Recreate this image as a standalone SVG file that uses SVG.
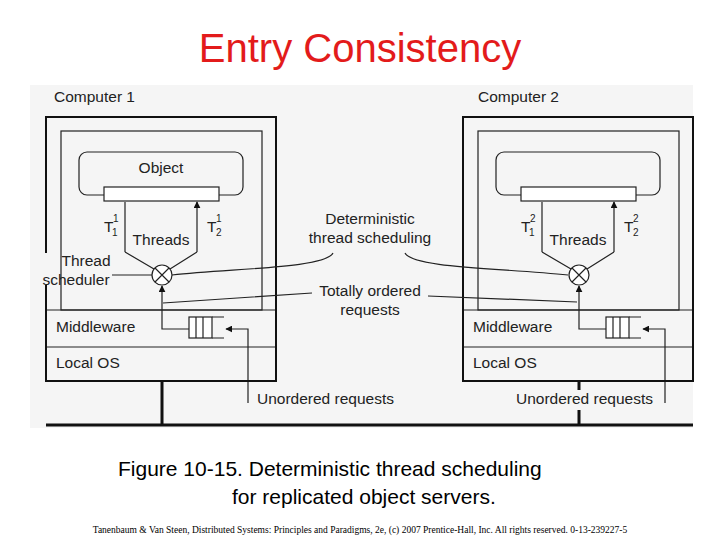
<svg xmlns="http://www.w3.org/2000/svg" width="720" height="540" viewBox="0 0 720 540">
<style>
.t{font-family:"Liberation Sans",Arial,sans-serif;font-size:15.5px;fill:#222}
.s{font-family:"Liberation Sans",Arial,sans-serif;font-size:10px;fill:#222}
.ln{stroke:#222;fill:none;stroke-width:1.2}
.bx{stroke:#111;fill:none;stroke-width:2}
</style>
<defs>
<marker id="a" viewBox="0 0 10 10" refX="9" refY="5" markerWidth="7" markerHeight="7" orient="auto-start-reverse" markerUnits="userSpaceOnUse"><path d="M0,0L10,5L0,10z" fill="#111"/></marker>
<g id="comp">
<rect x="61" y="131" width="201" height="179" class="ln"/>
<line x1="46" y1="310" x2="276" y2="310" class="ln"/>
<line x1="46" y1="347" x2="276" y2="347" class="ln"/>
<path d="M79,187V160a8,8 0 0 1 8,-8H235a8,8 0 0 1 8,8V187a8,8 0 0 1 -8,8H218M104,195H87a8,8 0 0 1 -8,-8" class="ln"/>
<rect x="104" y="187" width="115" height="14" fill="#fff" stroke="#222" stroke-width="1.2"/>
<path d="M125,252V202M197,252V202" class="ln" marker-end="url(#a)"/>
<path d="M125,252L154,269M197,252L170,269" class="ln"/>
<circle cx="162" cy="275" r="10" fill="#fff" stroke="#222" stroke-width="1.2"/>
<path d="M155,268L169,282M169,268L155,282" class="ln"/>
<path d="M189,329H162V286" class="ln" marker-end="url(#a)"/>
<rect x="189" y="317" width="23" height="21" fill="#fff" stroke="#222" stroke-width="1.2"/>
<path d="M212,317H224M212,338H224M196,317V338M203,317V338" class="ln"/>
<path d="M248,403V329H226" class="ln" marker-end="url(#a)"/>
<text x="104" y="232" class="t">T</text><text x="112" y="236" class="s">1</text>
<text x="207" y="232" class="t">T</text><text x="216" y="236" class="s">2</text>
<text x="161" y="245" class="t" text-anchor="middle">Threads</text>
<text x="56" y="332" class="t">Middleware</text>
<text x="56" y="368" class="t">Local OS</text>
</g>
</defs>
<rect width="720" height="540" fill="#fff"/>
<rect x="30" y="85" width="663" height="343" fill="#f5f5f5"/>
<text x="360" y="62" text-anchor="middle" font-family="Liberation Sans,Arial,sans-serif" font-size="40" fill="#e31b1b">Entry Consistency</text>
<g id="computer1">
<use href="#comp"/>
<path d="M46,253V117H276V381H46V285" class="bx"/>
<text x="54" y="102" class="t">Computer 1</text>
<text x="161" y="173" class="t" text-anchor="middle">Object</text>
<text x="113" y="222" class="s">1</text>
<text x="216" y="222" class="s">1</text>
<text x="86" y="266" class="t" text-anchor="middle">Thread</text>
<text x="76" y="285" class="t" text-anchor="middle">scheduler</text>
<line x1="112" y1="275" x2="152" y2="275" class="ln"/>
</g>
<g id="computer2">
<use href="#comp" transform="translate(417,0)"/>
<rect x="463" y="117" width="230" height="264" class="bx"/>
<text x="478" y="102" class="t">Computer 2</text>
<text x="530" y="222" class="s">2</text>
<text x="633" y="222" class="s">2</text>
</g>
<g id="connectors">
<path d="M162,381V425M579,381V390M579,410V425" stroke="#111" stroke-width="3"/>
<line x1="46" y1="425" x2="693" y2="425" stroke="#111" stroke-width="3"/>
<path d="M333,253C325,268 240,268 172,275" class="ln"/>
<path d="M405,253C413,268 500,268 568,275" class="ln"/>
<path d="M312,293L163,303M428,296L577,302" class="ln"/>
</g>
<g id="labels">
<text x="370" y="224" class="t" text-anchor="middle">Deterministic</text>
<text x="370" y="243" class="t" text-anchor="middle">thread scheduling</text>
<text x="370" y="296" class="t" text-anchor="middle">Totally ordered</text>
<text x="370" y="315" class="t" text-anchor="middle">requests</text>
<text x="257" y="404" class="t">Unordered requests</text>
<text x="516" y="404" class="t">Unordered requests</text>
</g>
<text x="118" y="476" font-family="Liberation Sans,Arial,sans-serif" font-size="21" fill="#000">Figure 10-15. Deterministic thread scheduling</text>
<text x="232" y="504" font-family="Liberation Sans,Arial,sans-serif" font-size="21" fill="#000">for replicated object servers.</text>
<text x="360" y="533" text-anchor="middle" font-family="Liberation Serif,Times New Roman,serif" font-size="9.5" fill="#000">Tanenbaum &amp; Van Steen, Distributed Systems: Principles and Paradigms, 2e, (c) 2007 Prentice-Hall, Inc. All rights reserved. 0-13-239227-5</text>
</svg>
